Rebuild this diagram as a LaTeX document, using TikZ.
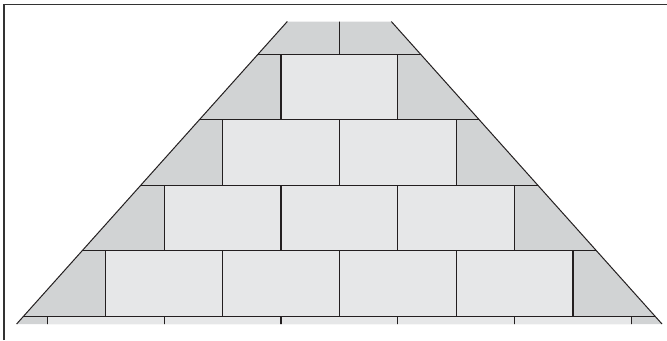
\documentclass[tikz,border=0pt]{standalone}
\definecolor{brickface}{HTML}{E6E7E8}
\definecolor{brickcut}{HTML}{D1D3D4}
\definecolor{mortar}{HTML}{231F20}
\tikzset{joint/.style={draw=mortar,line width=1.2bp},
  slope/.style={draw=mortar,line width=1bp}}
\begin{document}
\begin{tikzpicture}[x=1bp,y=-1bp]
\useasboundingbox (0,0) rectangle (667,340);
% frame
\draw[line width=1.4bp,draw=black!80] (4,340) -- (4,4.5) -- (667,4.5);
% wall outline
\coordinate (tl) at (287.3,21.5);
\coordinate (tr) at (391.3,21.5);
\coordinate (br) at (662,324);
\coordinate (bl) at (16.6,324);
\begin{scope}
\clip (tl) -- (tr) -- (br) -- (bl) -- cycle;
\fill[brickcut] (tl) -- (tr) -- (br) -- (bl) -- cycle;
% whole bricks
\foreach \r in {1,...,5}
  \foreach \i in {1,...,\r}
    \fill[brickface] ({339.3+(\i-1-\r/2)*116.8},{54.2+(\r-1)*65.5}) rectangle +(116.8,65.5);
% bed joints
\foreach \r in {1,...,5}
  \draw[joint] (0,{54.2+(\r-1)*65.5}) -- (667,{54.2+(\r-1)*65.5});
% head joints
\foreach \r in {0,...,5}
  \foreach \i in {0,...,\r}
    \draw[joint] ({339.3+(\i-\r/2)*116.8},{54.2+(\r-1)*65.5}) -- +(0,65.5);
\end{scope}
\draw[slope] (tl) -- (bl);
\draw[slope] (tr) -- (br);
\end{tikzpicture}
\end{document}
